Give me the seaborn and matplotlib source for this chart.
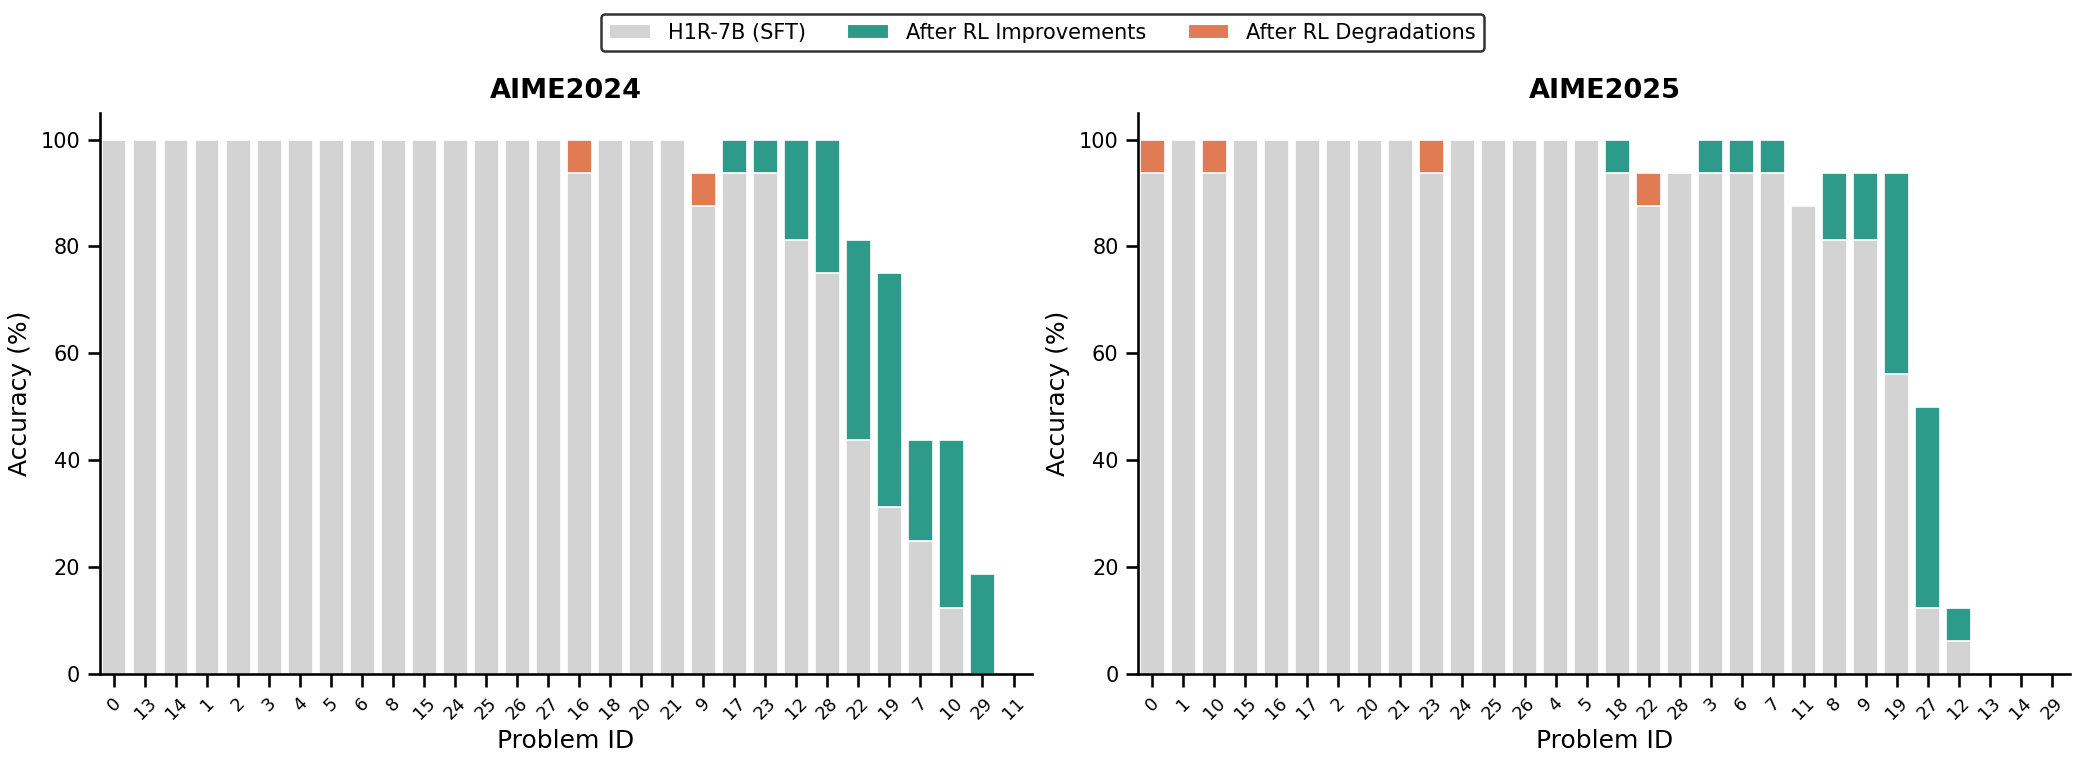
import numpy as np
import pandas as pd
import matplotlib.pyplot as plt
from matplotlib.patches import Patch
import seaborn as sns

sns.set_theme(style="ticks", rc={'text.color': 'black', 'axes.labelcolor': 'black',
                                 'xtick.color': 'black', 'ytick.color': 'black',
                                 'axes.edgecolor': 'black'})
plt.rcParams['font.family'] = ['DejaVu Sans']

# AIME2024
ids_24 = ['0', '13', '14', '1', '2', '3', '4', '5', '6', '8', '15', '24', '25', '26', '27',
          '16', '18', '20', '21', '9', '17', '23', '12', '28', '22', '19', '7', '10', '29', '11']
sft_24 = [100, 100, 100, 100, 100, 100, 100, 100, 100, 100, 100, 100, 100, 100, 100,
          100, 100, 100, 100, 93.75, 93.75, 93.75, 81.25, 75, 43.75, 31.25, 25, 12.5, 0, 0]
rl_24 = [100, 100, 100, 100, 100, 100, 100, 100, 100, 100, 100, 100, 100, 100, 100,
         93.75, 100, 100, 100, 87.5, 100, 100, 100, 100, 81.25, 75, 43.75, 43.75, 18.75, 0]

# AIME2025
ids_25 = ['0', '1', '10', '15', '16', '17', '2', '20', '21', '23', '24', '25', '26', '4', '5',
          '18', '22', '28', '3', '6', '7', '11', '8', '9', '19', '27', '12', '13', '14', '29']
sft_25 = [100, 100, 100, 100, 100, 100, 100, 100, 100, 100, 100, 100, 100, 100, 100,
          93.75, 93.75, 93.75, 93.75, 93.75, 93.75, 87.5, 81.25, 81.25, 56.25, 12.5, 6.25, 0, 0, 0]
rl_25 = [93.75, 100, 93.75, 100, 100, 100, 100, 100, 100, 93.75, 100, 100, 100, 100, 100,
         100, 87.5, 93.75, 100, 100, 100, 87.5, 93.75, 93.75, 93.75, 50, 12.5, 0, 0, 0]

GRAY = '#d3d3d3'
TEAL = '#2e9b8a'
ORANGE = '#e07b54'
palette = {'same': GRAY, 'up': TEAL, 'down': ORANGE}

fig, axes = plt.subplots(1, 2, figsize=(13.9, 5.08), dpi=150)

for ax, title, ids, sft, rl in [(axes[0], 'AIME2024', ids_24, sft_24, rl_24),
                                (axes[1], 'AIME2025', ids_25, sft_25, rl_25)]:
    sft = np.array(sft)
    rl = np.array(rl)
    change = np.where(rl > sft, 'up', np.where(rl < sft, 'down', 'same'))
    df = pd.DataFrame({'pid': ids, 'top': np.maximum(sft, rl),
                       'low': np.minimum(sft, rl), 'change': change})
    # colored part up to the larger value, gray covers up to the smaller value
    sns.barplot(data=df, x='pid', y='top', hue='change', palette=palette, order=ids,
                dodge=False, width=0.8, edgecolor='white', linewidth=0.8,
                saturation=1, legend=False, ax=ax)
    sns.barplot(data=df, x='pid', y='low', color=GRAY, order=ids, width=0.8,
                edgecolor='white', linewidth=0.8, saturation=1, ax=ax)
    ax.set_title(title, fontsize=13, fontweight='bold', pad=7)
    ax.set_xlabel('Problem ID', fontsize=12, labelpad=3)
    ax.set_ylabel('Accuracy (%)', fontsize=12)
    ax.set_ylim(0, 105)
    ax.set_xlim(-0.45, 29.6)
    ax.set_yticks([0, 20, 40, 60, 80, 100])
    ax.tick_params(axis='y', labelsize=10)
    ax.tick_params(axis='x', labelsize=8.5, rotation=45)
    sns.despine(ax=ax)

handles = [Patch(facecolor=GRAY, label='H1R-7B (SFT)'),
           Patch(facecolor=TEAL, label='After RL Improvements'),
           Patch(facecolor=ORANGE, label='After RL Degradations')]
leg = fig.legend(handles=handles, loc='upper center', ncol=3, bbox_to_anchor=(0.5, 0.995),
                 fontsize=10, frameon=True, edgecolor='black', fancybox=True)
leg.get_frame().set_linewidth(1.2)

fig.subplots_adjust(left=0.048, right=0.993, top=0.852, bottom=0.115, wspace=0.114)
fig.savefig('out.png')
